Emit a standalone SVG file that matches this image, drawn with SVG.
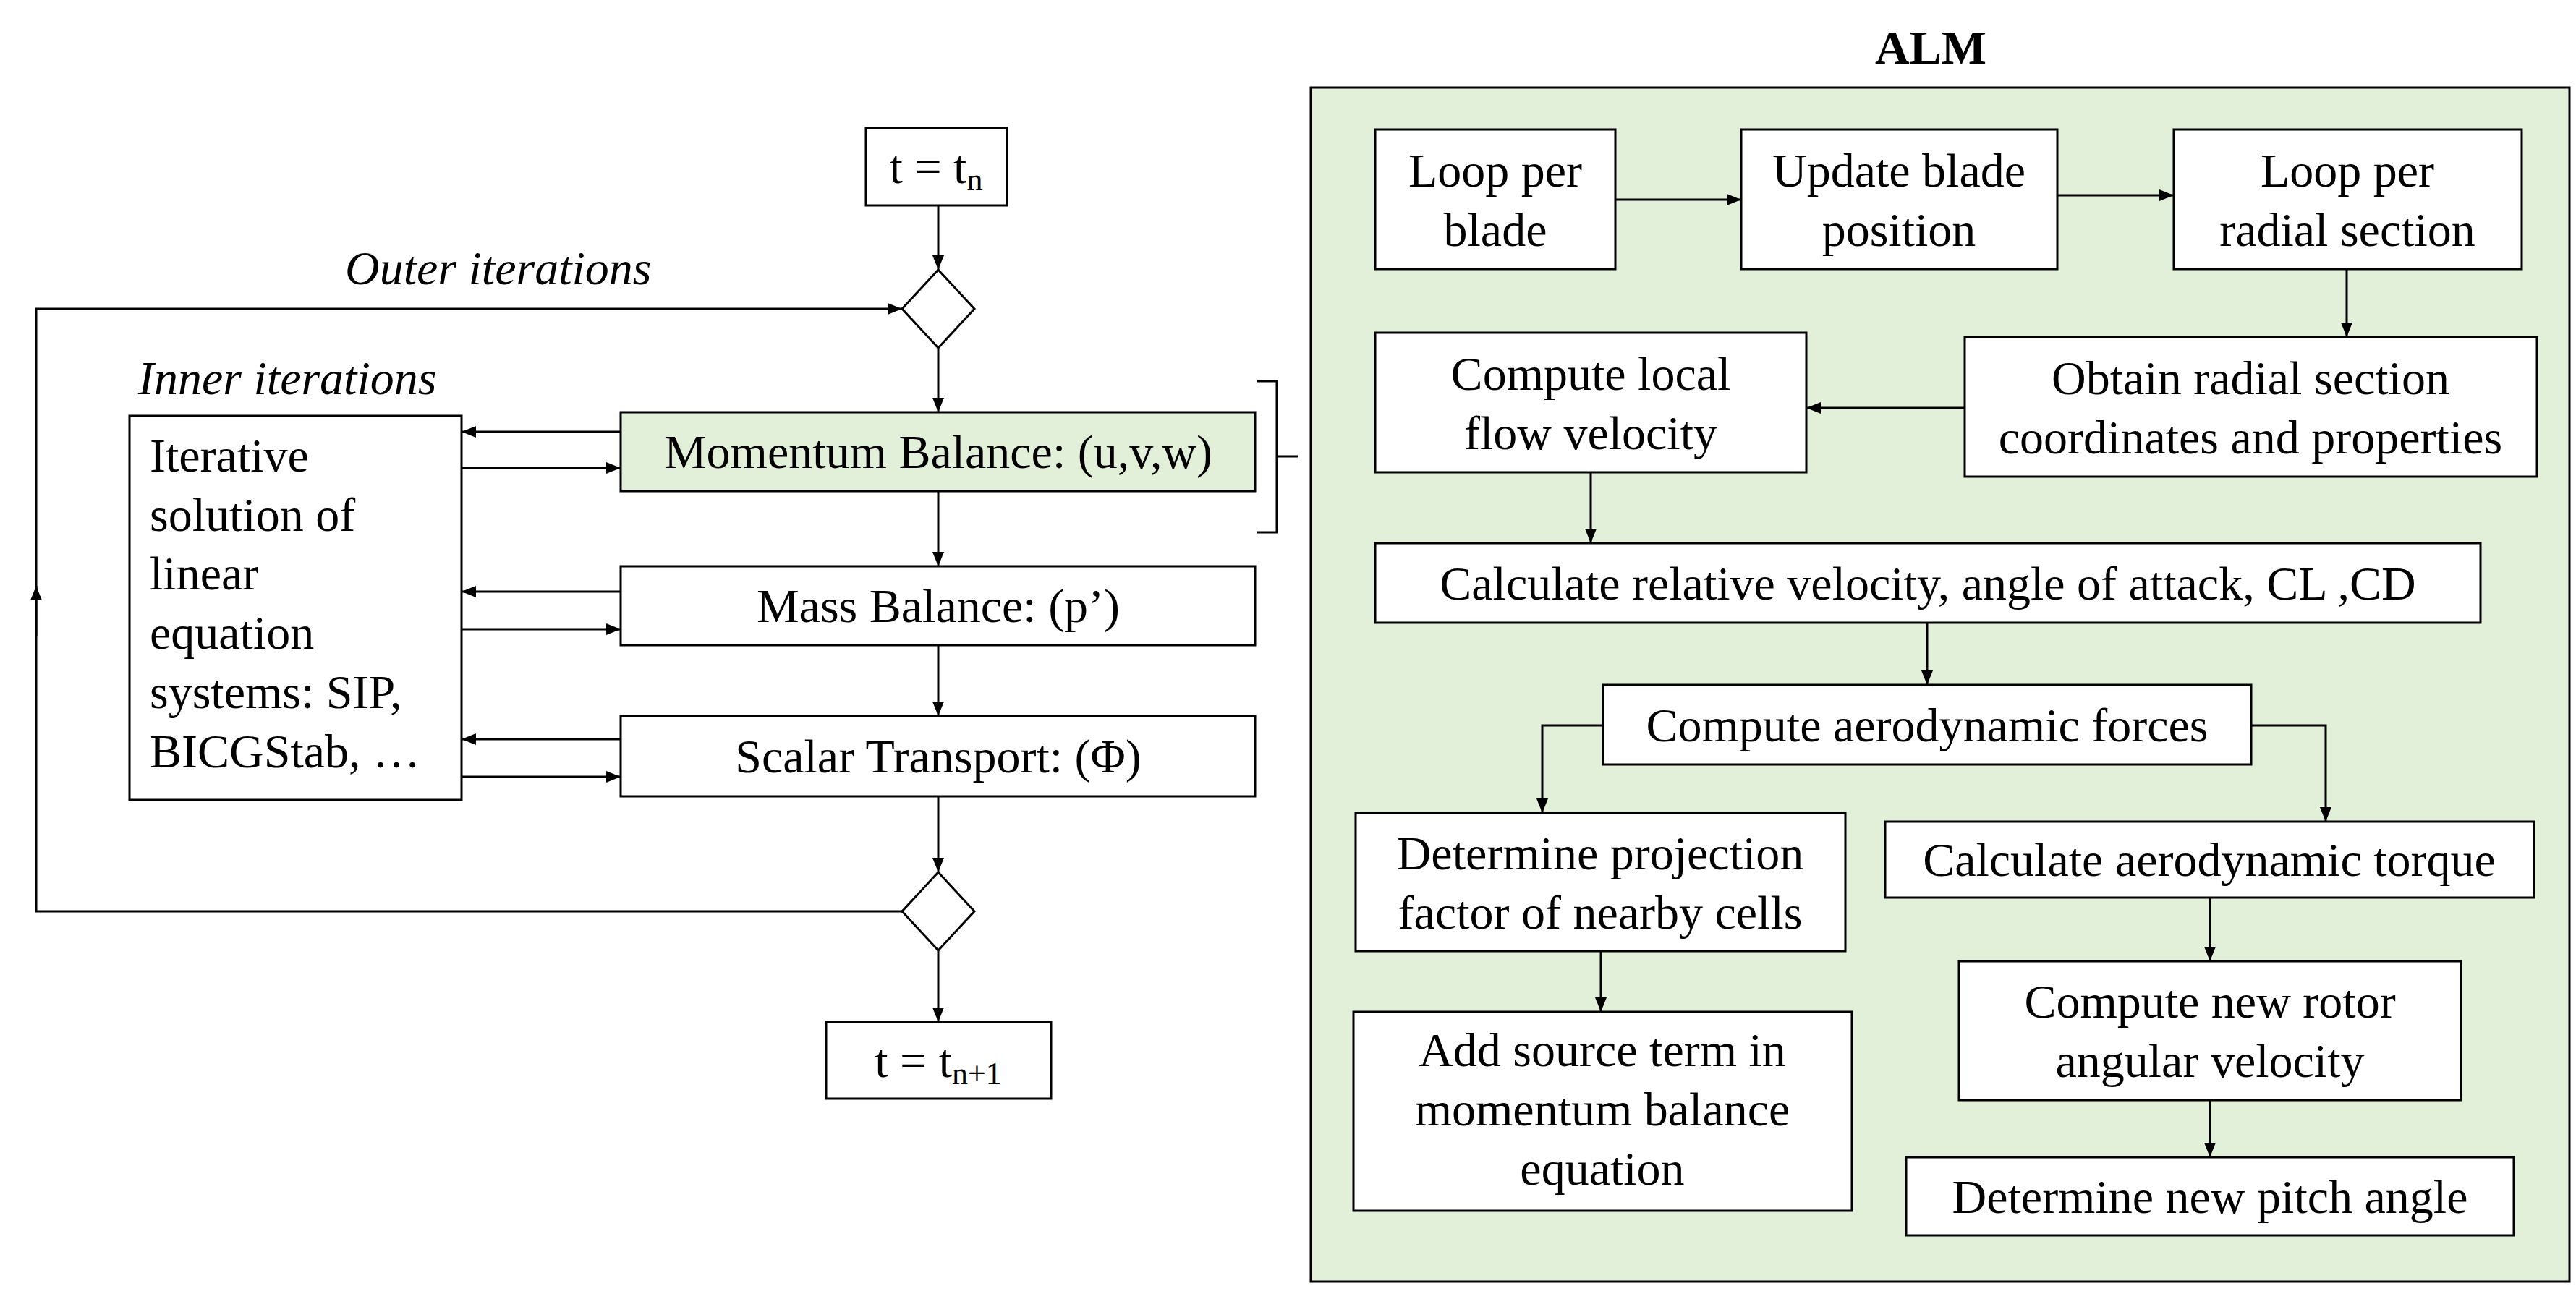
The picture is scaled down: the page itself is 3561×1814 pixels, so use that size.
<svg xmlns="http://www.w3.org/2000/svg" width="3561" height="1814" viewBox="0 0 3561 1814">
<style>
.b{fill:#fff;stroke:#000;stroke-width:3}
.g{fill:#e2efd9;stroke:#000;stroke-width:3}
text{font-family:"Liberation Serif","Times New Roman",serif;font-size:66px;fill:#000}
.c{text-anchor:middle}
.i{font-style:italic}
.n{fill:none;stroke:#000;stroke-width:3}
.a{fill:none;stroke:#000;stroke-width:3;marker-end:url(#a2)}
</style>
<defs>
<marker id="a2" markerWidth="22" markerHeight="20" refX="20" refY="10" orient="auto" markerUnits="userSpaceOnUse"><path d="M0,2L20,10L0,18z" fill="#000"/></marker></defs>
<rect width="3561" height="1814" fill="#fff"/>
<rect class="g" x="1812" y="121" width="1740" height="1651"/>
<text class="c" x="2669" y="88" font-weight="bold">ALM</text>
<text class="i" x="477" y="393">Outer iterations</text>
<text class="i" x="191" y="545">Inner iterations</text>
<g id="connectors">
<path class="a" d="M1297,284V373"/>
<path class="a" d="M1247,1260H50V427H1247"/>
<path class="a" d="M50,880V810"/>
<path class="a" d="M1297,481V570"/>
<path class="a" d="M1297,679V783"/>
<path class="a" d="M1297,892V990"/>
<path class="a" d="M1297,1101V1206"/>
<path class="a" d="M1297,1314V1413"/>
<path class="a" d="M858,597H638"/>
<path class="a" d="M638,647H858"/>
<path class="a" d="M858,818H638"/>
<path class="a" d="M638,870H858"/>
<path class="a" d="M858,1022H638"/>
<path class="a" d="M638,1074H858"/>
<path class="n" d="M1738,527H1765V736H1738M1765,631H1794"/>
<path class="a" d="M2233,276H2407"/>
<path class="a" d="M2844,270H3005"/>
<path class="a" d="M3244,372V466"/>
<path class="a" d="M2716,564H2497"/>
<path class="a" d="M2199,653V751"/>
<path class="a" d="M2664,861V947"/>
<path class="a" d="M2216,1003H2132V1124"/>
<path class="a" d="M3112,1003H3215V1136"/>
<path class="a" d="M2213,1315V1399"/>
<path class="a" d="M3055,1241V1329"/>
<path class="a" d="M3055,1521V1600"/>
</g>
<g id="tn"><rect class="b" x="1197" y="177" width="195" height="107"/><text class="c" x="1294" y="253">t = t<tspan font-size="44" dy="10">n</tspan></text></g>
<g id="d1"><path class="b" d="M1297,373L1347,427L1297,481L1247,427Z"/></g>
<g id="iter"><rect class="b" x="179" y="575" width="459" height="531"/>
<text x="207" y="652">Iterative</text><text x="207" y="734">solution of</text><text x="207" y="815">linear</text><text x="207" y="897">equation</text><text x="207" y="979">systems: SIP,</text><text x="207" y="1061">BICGStab, …</text></g>
<g id="mom"><rect class="g" x="858" y="570" width="877" height="109"/><text class="c" x="1297" y="647">Momentum Balance: (u,v,w)</text></g>
<g id="mass"><rect class="b" x="858" y="783" width="877" height="109"/><text class="c" x="1297" y="860">Mass Balance: (p’)</text></g>
<g id="scalar"><rect class="b" x="858" y="990" width="877" height="111"/><text class="c" x="1297" y="1068">Scalar Transport: (Φ)</text></g>
<g id="d2"><path class="b" d="M1297,1206L1347,1260L1297,1314L1247,1260Z"/></g>
<g id="tn1"><rect class="b" x="1142" y="1413" width="311" height="106"/><text class="c" x="1297" y="1489">t = t<tspan font-size="44" dy="10">n+1</tspan></text></g>
<g id="lpb"><rect class="b" x="1901" y="179" width="332" height="193"/><text class="c" x="2067" y="258">Loop per</text><text class="c" x="2067" y="340">blade</text></g>
<g id="ubp"><rect class="b" x="2407" y="179" width="437" height="193"/><text class="c" x="2625" y="258">Update blade</text><text class="c" x="2625" y="340">position</text></g>
<g id="lprs"><rect class="b" x="3005" y="179" width="481" height="193"/><text class="c" x="3245" y="258">Loop per</text><text class="c" x="3245" y="340">radial section</text></g>
<g id="obt"><rect class="b" x="2716" y="466" width="791" height="193"/><text class="c" x="3111" y="545">Obtain radial section</text><text class="c" x="3111" y="627">coordinates and properties</text></g>
<g id="clf"><rect class="b" x="1901" y="460" width="596" height="193"/><text class="c" x="2199" y="539">Compute local</text><text class="c" x="2199" y="621">flow velocity</text></g>
<g id="crv"><rect class="b" x="1901" y="751" width="1528" height="110"/><text class="c" x="2665" y="829">Calculate relative velocity, angle of attack, CL ,CD</text></g>
<g id="caf"><rect class="b" x="2216" y="947" width="896" height="110"/><text class="c" x="2664" y="1025">Compute aerodynamic forces</text></g>
<g id="dpf"><rect class="b" x="1874" y="1124" width="677" height="191"/><text class="c" x="2212" y="1202">Determine projection</text><text class="c" x="2212" y="1284">factor of nearby cells</text></g>
<g id="cat"><rect class="b" x="2606" y="1136" width="897" height="105"/><text class="c" x="3054" y="1211">Calculate aerodynamic torque</text></g>
<g id="ast"><rect class="b" x="1871" y="1399" width="689" height="275"/><text class="c" x="2215" y="1474">Add source term in</text><text class="c" x="2215" y="1556">momentum balance</text><text class="c" x="2215" y="1638">equation</text></g>
<g id="cnr"><rect class="b" x="2708" y="1329" width="694" height="192"/><text class="c" x="3055" y="1407">Compute new rotor</text><text class="c" x="3055" y="1489">angular velocity</text></g>
<g id="dnp"><rect class="b" x="2635" y="1600" width="840" height="108"/><text class="c" x="3055" y="1677">Determine new pitch angle</text></g>
</svg>
